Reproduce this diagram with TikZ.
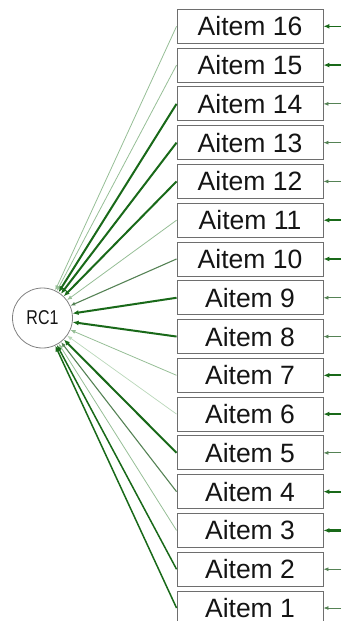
\documentclass[tikz,border=0pt]{standalone}
\usepackage{fontspec}
\setmainfont{Liberation Sans}
\usetikzlibrary{arrows.meta}
\definecolor{dkg}{RGB}{25,105,25}
\definecolor{mdg}{RGB}{85,130,85}
\definecolor{ltg}{RGB}{150,190,150}
\definecolor{vlg}{RGB}{185,215,185}
\definecolor{boxgray}{RGB}{110,110,110}
\definecolor{txt}{RGB}{20,20,20}
\begin{document}
\begin{tikzpicture}[x=1pt,y=-1pt,
  item/.style={draw=boxgray, line width=0.9pt, fill=white, minimum width=146pt, minimum height=34pt, inner sep=0pt, text=txt, font=\fontsize{26.5}{26.5}\selectfont},
  lat/.style={circle, draw=gray, line width=0.8pt, minimum size=60pt, inner sep=0pt, text=txt, font=\fontsize{16}{16}\selectfont},
  ldA/.style={draw=dkg, line width=2pt, -{Latex[length=6pt,width=5pt]}},
  ldB/.style={draw=dkg, line width=1.5pt, -{Latex[length=6pt,width=5pt]}},
  ldC/.style={draw=mdg, line width=1.1pt, -{Latex[length=5pt,width=4pt]}},
  ldD/.style={draw=ltg, line width=0.8pt, -{Latex[length=5pt,width=4pt]}},
  ldE/.style={draw=vlg, line width=0.7pt, -{Latex[length=5pt,width=4pt]}},
  erA/.style={draw=dkg, line width=2.2pt, -{Latex[length=6pt,width=5pt]}},
  erB/.style={draw=dkg, line width=1.6pt, -{Latex[length=6pt,width=5pt]}},
  erC/.style={draw=mdg, line width=0.8pt, -{Latex[length=5pt,width=4pt]}}
]
\useasboundingbox (0,0) rectangle (341,621);
\clip (0,0) rectangle (341,621);
\node[lat] (rc) at (42.5,318) {\scalebox{1}[1.25]{RC1}};
\foreach \i in {1,...,16}{
  \pgfmathsetmacro\yy{26.3+(16-\i)*38.78}
  \node[item] (a\i) at (250,\yy) {Aitem \i};
  \coordinate (e\i) at (341,\yy);
}
\foreach \i/\s in {16/ldD,15/ldD,14/ldA,13/ldA,12/ldA,11/ldD,10/ldC,9/ldA,8/ldA,7/ldD,6/ldE,5/ldA,4/ldC,3/ldD,2/ldB,1/ldB}{
  \draw[\s] (a\i.west) -- (rc);
}
\foreach \i/\s in {16/erB,15/erA,14/erC,13/erC,12/erC,11/erA,10/erB,9/erC,8/erC,7/erA,6/erA,5/erC,4/erA,3/erA,2/erC,1/erC}{
  \draw[\s] (e\i) -- (a\i.east);
}
\end{tikzpicture}
\end{document}
